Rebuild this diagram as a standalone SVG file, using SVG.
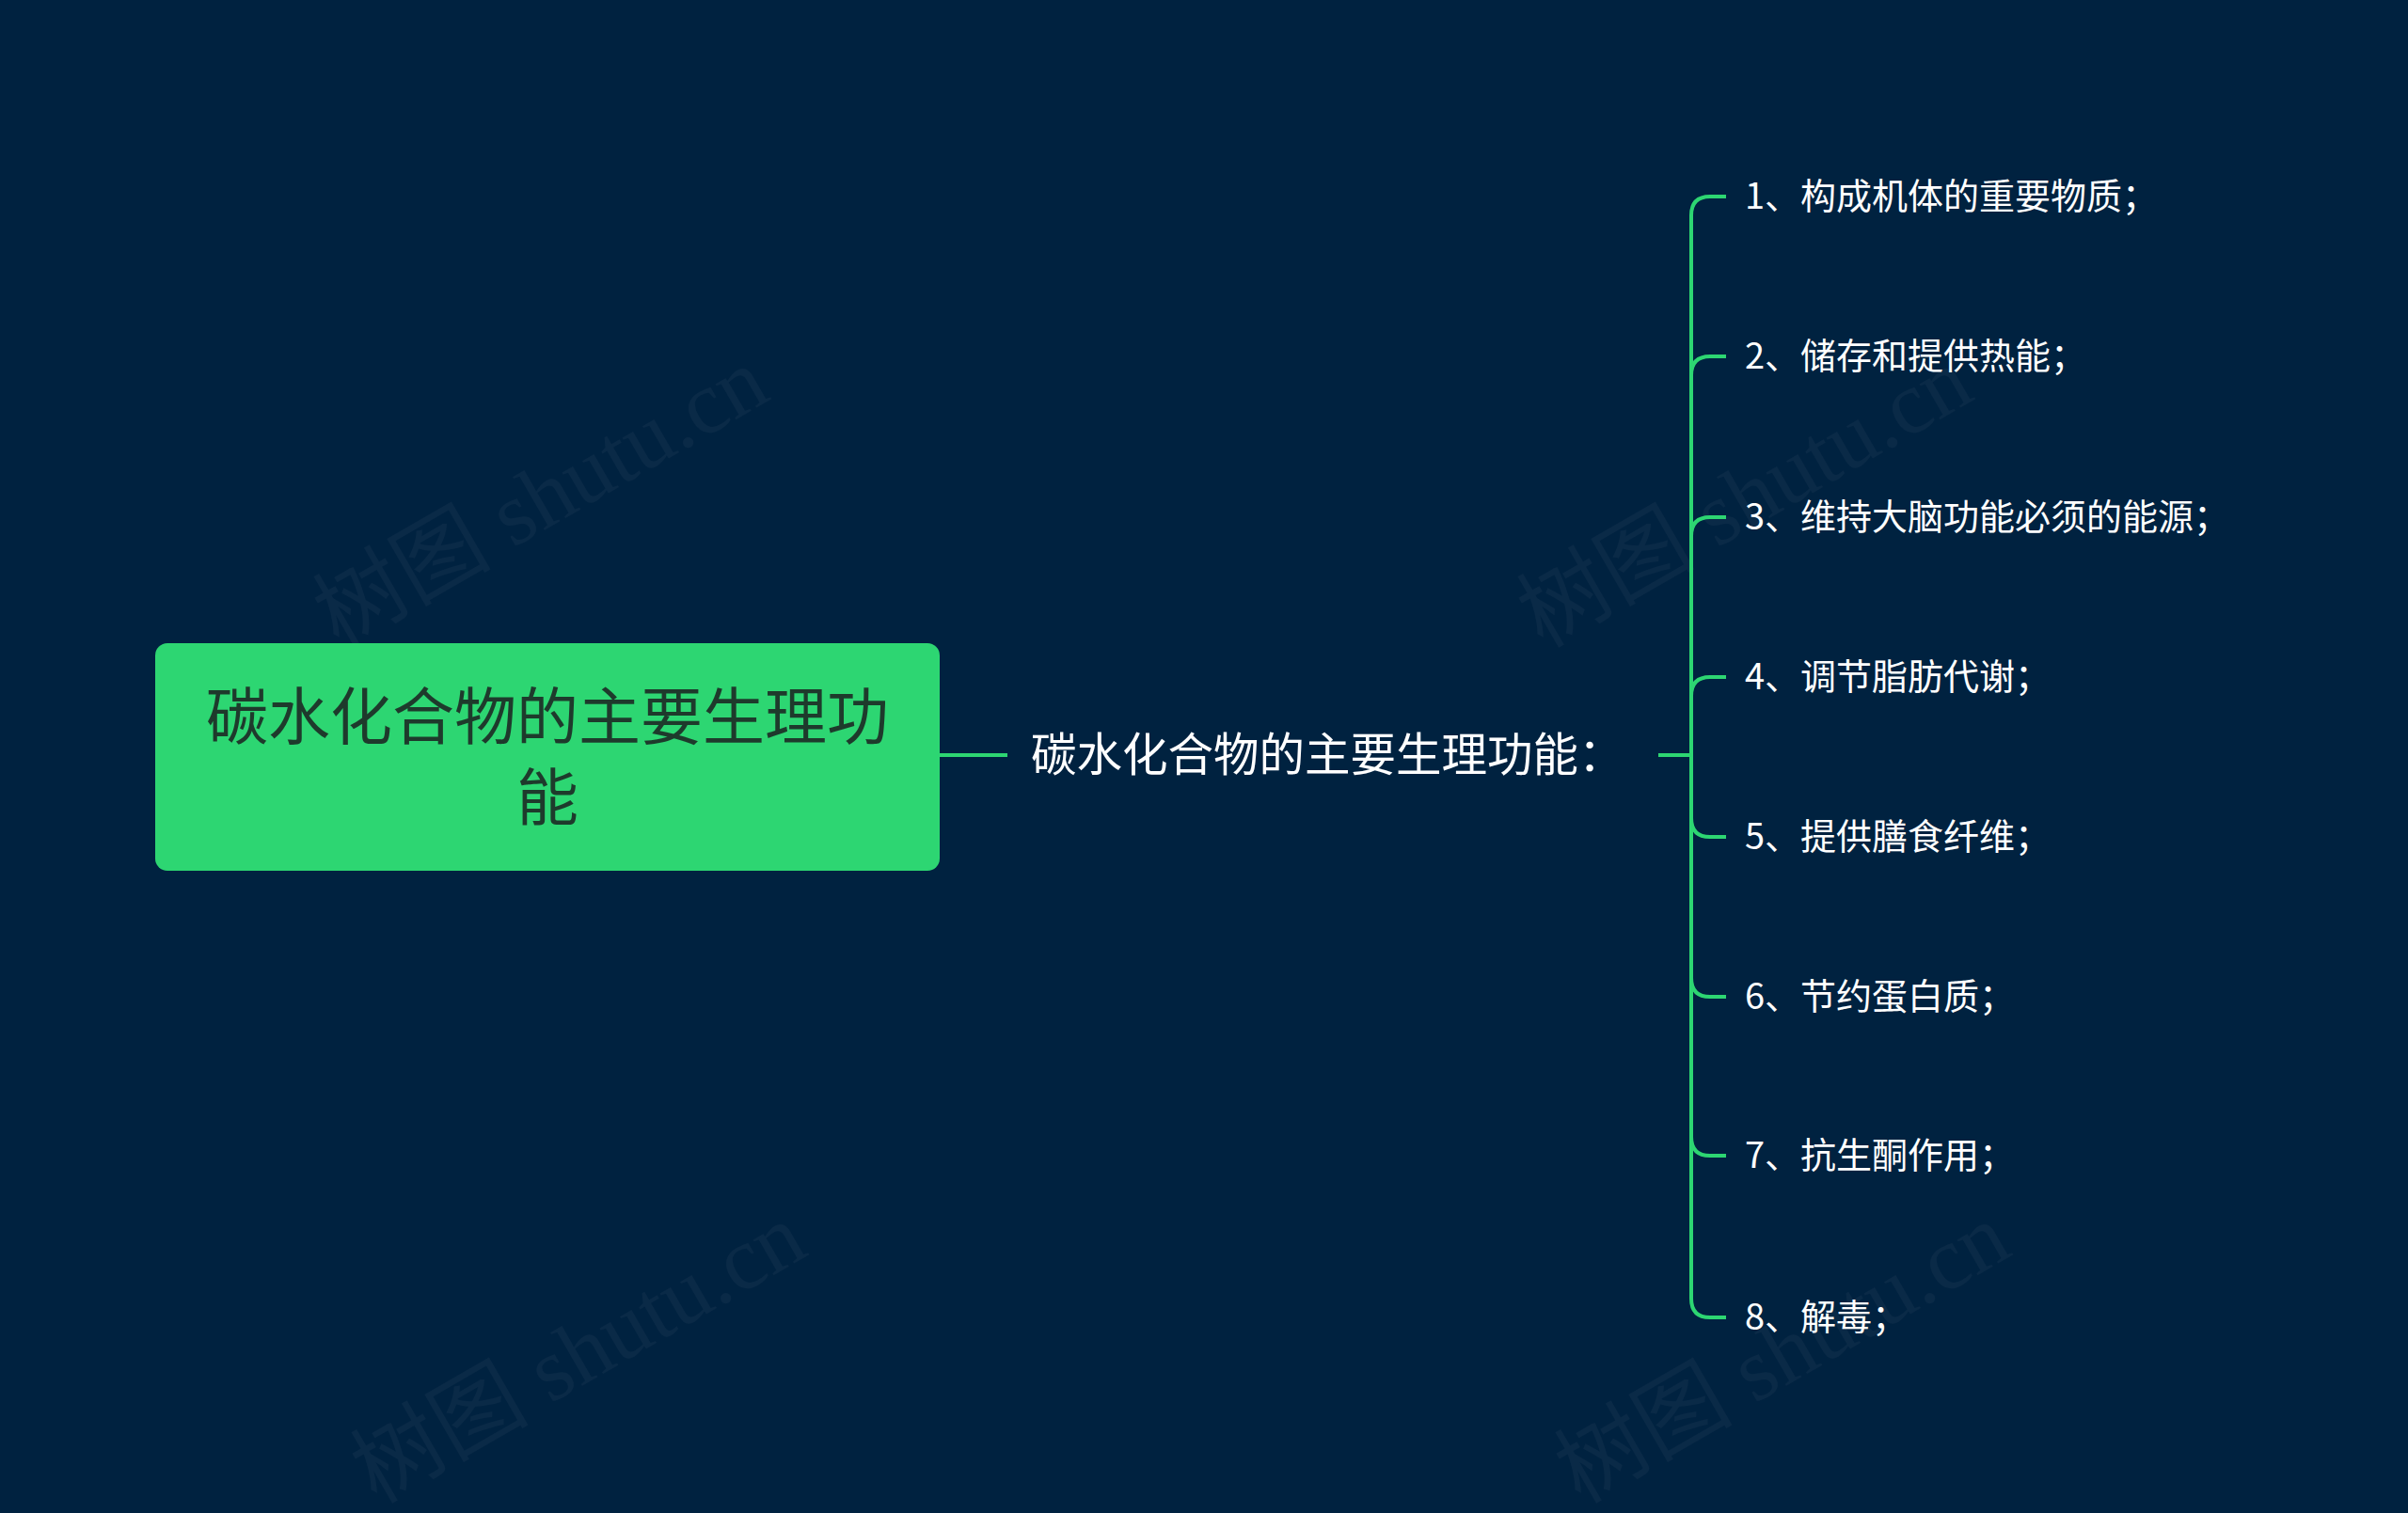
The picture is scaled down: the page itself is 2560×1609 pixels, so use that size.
<svg xmlns="http://www.w3.org/2000/svg" width="2560" height="1609" viewBox="0 0 2560 1609">
<style>
.t{font-family:"Noto Sans CJK SC","Noto Sans",sans-serif}
.item{font-size:38px;fill:#ffffff}
.ln{stroke:#2dd672;stroke-width:4;fill:none}
.wm{font-family:"Liberation Serif","Noto Sans CJK SC",serif;font-size:95px;fill:#ffffff;fill-opacity:0.04}
</style>
<rect width="2560" height="1609" fill="#002240"/>
<g id="watermarks">
<text class="wm" transform="translate(360,690) rotate(-30)">树图 shutu.cn</text>
<text class="wm" transform="translate(1640,690) rotate(-30)">树图 shutu.cn</text>
<text class="wm" transform="translate(400,1600) rotate(-30)">树图 shutu.cn</text>
<text class="wm" transform="translate(1680,1600) rotate(-30)">树图 shutu.cn</text>
</g>
<g id="connectors">
<path class="ln" d="M999 803H1071"/>
<path class="ln" d="M1763 803H1798"/>
<path class="ln" d="M1835 209H1818Q1798 209 1798 229V1381Q1798 1401 1818 1401H1835"/>
<path class="ln" d="M1798 399Q1798 379 1818 379H1835"/>
<path class="ln" d="M1798 570Q1798 550 1818 550H1835"/>
<path class="ln" d="M1798 740Q1798 720 1818 720H1835"/>
<path class="ln" d="M1798 870Q1798 890 1818 890H1835"/>
<path class="ln" d="M1798 1040Q1798 1060 1818 1060H1835"/>
<path class="ln" d="M1798 1209Q1798 1229 1818 1229H1835"/>
</g>
<g id="root">
<rect x="165" y="684" width="834" height="242" rx="13" fill="#2dd672"/>
<text class="t" x="582" y="786" font-size="66" fill="#1e3a2c" text-anchor="middle">碳水化合物的主要生理功</text>
<text class="t" x="582" y="872" font-size="66" fill="#1e3a2c" text-anchor="middle">能</text>
</g>
<g id="mid"><text class="t" x="1096" y="820" font-size="48.5" fill="#ffffff">碳水化合物的主要生理功能：</text></g>
<g id="n1"><text class="t item" x="1855" y="222">1、构成机体的重要物质；</text></g>
<g id="n2"><text class="t item" x="1855" y="392">2、储存和提供热能；</text></g>
<g id="n3"><text class="t item" x="1855" y="563">3、维持大脑功能必须的能源；</text></g>
<g id="n4"><text class="t item" x="1855" y="733">4、调节脂肪代谢；</text></g>
<g id="n5"><text class="t item" x="1855" y="903">5、提供膳食纤维；</text></g>
<g id="n6"><text class="t item" x="1855" y="1073">6、节约蛋白质；</text></g>
<g id="n7"><text class="t item" x="1855" y="1242">7、抗生酮作用；</text></g>
<g id="n8"><text class="t item" x="1855" y="1414">8、解毒；</text></g>
</svg>
